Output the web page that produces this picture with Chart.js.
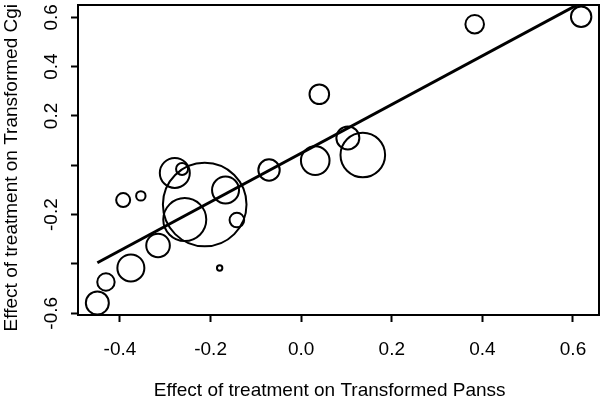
<!DOCTYPE html>
<html>
<head>
<meta charset="utf-8">
<script src="https://cdn.jsdelivr.net/npm/chart.js@4"></script>
<style>
  html, body { margin: 0; padding: 0; background: #fff; }
  #wrap { width: 600px; height: 403px; }
</style>
</head>
<body>
<div id="wrap"><canvas id="c" width="600" height="403"></canvas></div>
<script>
// ---- data ----
const effectPanss = [0.618, 0.383, 0.040, 0.103, 0.136, 0.031, -0.071, -0.279, -0.263, -0.213,
                     -0.167, -0.257, -0.142, -0.393, -0.354, -0.316, -0.376, -0.431, -0.450, -0.180];
const effectCgi   = [0.602, 0.572, 0.288, 0.111, 0.042, 0.019, -0.019, -0.031, -0.015, -0.159,
                     -0.100, -0.220, -0.222, -0.141, -0.124, -0.325, -0.416, -0.473, -0.558, -0.416];
const studyWeight = [10.2, 9.3, 9.8, 11.5, 22.3, 14.3, 10.7, 15.0, 6.0, 41.8,
                     13.5, 21.5, 7.3, 7.0, 4.7, 11.8, 13.5, 8.7, 11.5, 2.7];
const fitX = [-0.450, 0.618];
const fitY = [-0.395, 0.659];
const xTickValues = [-0.4, -0.2, 0.0, 0.2, 0.4, 0.6];
const xTickLabels = ['-0.4', '-0.2', '0.0', '0.2', '0.4', '0.6'];
const yTickValues = [-0.6, -0.4, -0.2, 0.0, 0.2, 0.4, 0.6];
const yTickLabels = ['-0.6', '', '-0.2', '', '0.2', '0.4', '0.6'];
const xTitle = 'Effect of treatment on Transformed Panss';
const yTitle = 'Effect of treatment on Transformed Cgi';

const FONT = '"Liberation Sans", Arial, Helvetica, sans-serif';

const bubbles = effectPanss.map((x, i) => ({ x: x, y: effectCgi[i], r: studyWeight[i] }));
const fitLine = fitX.map((x, i) => ({ x: x, y: fitY[i] }));

const frame = {
  id: 'frame',
  afterDraw(chart) {
    const ctx = chart.ctx;
    const a = chart.chartArea;
    ctx.save();
    ctx.strokeStyle = '#000';
    ctx.lineWidth = 2;
    ctx.strokeRect(a.left, a.top, a.right - a.left, a.bottom - a.top);
    ctx.fillStyle = '#000';
    ctx.font = '19px ' + FONT;
    ctx.textAlign = 'center';
    ctx.textBaseline = 'alphabetic';
    ctx.fillText(xTitle, 329.7, 396);
    ctx.translate(16.7, 167.7);
    ctx.rotate(-Math.PI / 2);
    ctx.fillText(yTitle, 0, 0);
    ctx.restore();
  }
};

function noPad(s) {
  s.paddingTop = 0; s.paddingBottom = 0; s.paddingLeft = 0; s.paddingRight = 0;
}

new Chart(document.getElementById('c'), {
  data: {
    datasets: [
      {
        type: 'bubble',
        data: bubbles,
        backgroundColor: 'rgba(0,0,0,0)',
        borderColor: '#000',
        borderWidth: 2,
        hoverRadius: 0,
        order: 2
      },
      {
        type: 'line',
        data: fitLine,
        borderColor: '#000',
        borderWidth: 3,
        pointRadius: 0,
        fill: false,
        clip: 0,
        order: 1
      }
    ]
  },
  options: {
    responsive: false,
    animation: false,
    events: [],
    layout: { autoPadding: false, padding: { top: 5, right: 1, left: 0, bottom: 0 } },
    plugins: { legend: { display: false }, tooltip: { enabled: false } },
    scales: {
      x: {
        type: 'linear',
        min: -0.4927,
        max: 0.6574,
        afterBuildTicks: s => { s.ticks = xTickValues.map(v => ({ value: v })); },
        afterFit: s => { s.height = 88; noPad(s); },
        grid: { display: true, drawOnChartArea: false, drawTicks: true, tickLength: 7, tickWidth: 2, tickColor: '#000' },
        border: { display: true, color: '#000', width: 2 },
        ticks: {
          autoSkip: false,
          maxRotation: 0,
          padding: 16,
          color: '#000',
          font: { family: FONT, size: 19 },
          callback: (v, i) => xTickLabels[i]
        }
      },
      y: {
        type: 'linear',
        min: -0.6068,
        max: 0.6498,
        afterBuildTicks: s => { s.ticks = yTickValues.map(v => ({ value: v })); },
        afterFit: s => { s.width = 78; noPad(s); },
        grid: { display: true, drawOnChartArea: false, drawTicks: true, tickLength: 7, tickWidth: 2, tickColor: '#000' },
        border: { display: true, color: '#000', width: 2 },
        ticks: {
          autoSkip: false,
          minRotation: 90,
          maxRotation: 90,
          crossAlign: 'center',
          padding: 3,
          color: '#000',
          font: { family: FONT, size: 19 },
          callback: (v, i) => yTickLabels[i]
        }
      }
    }
  },
  plugins: [frame]
});
</script>
</body>
</html>
